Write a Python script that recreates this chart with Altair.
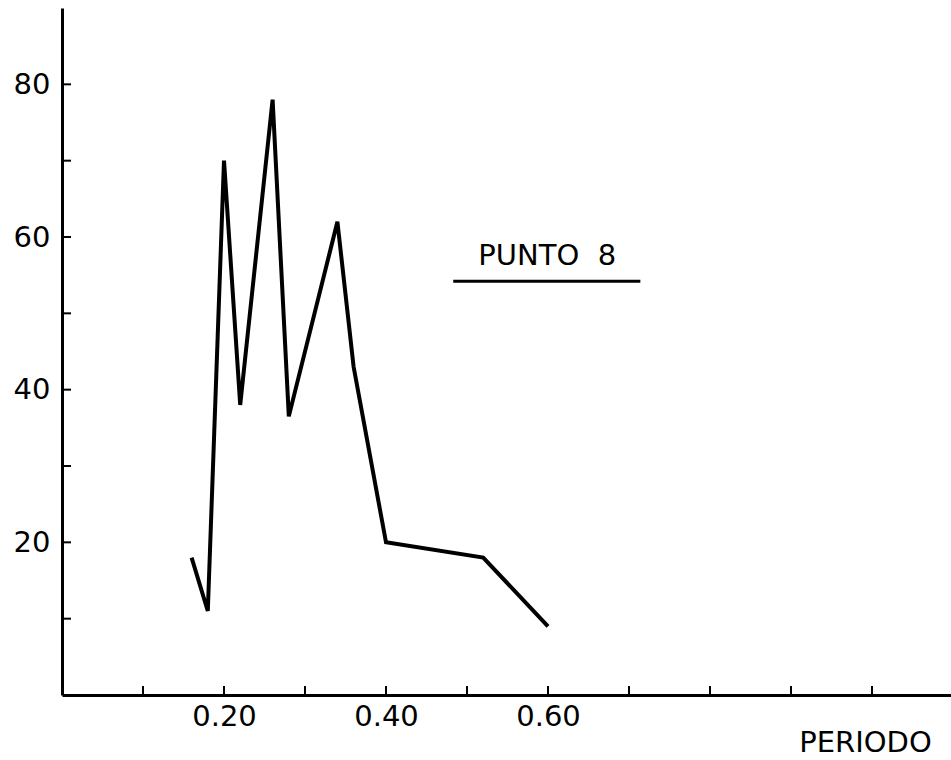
import altair as alt
import pandas as pd

# Data
periodo = [0.16, 0.18, 0.20, 0.22, 0.26, 0.28, 0.34, 0.36, 0.40, 0.52, 0.60]
valor = [18, 11, 70, 38, 78, 36.5, 62, 43, 20, 18, 9]

x_ticks = [0.1, 0.2, 0.3, 0.4, 0.5, 0.6, 0.7, 0.8, 0.9, 1.0]
x_labels = [0.2, 0.4, 0.6]
y_ticks = [10, 20, 30, 40, 50, 60, 70, 80]
y_labels = [20, 40, 60, 80]

label_text = "PUNTO\u00a0\u00a08"

FONT = "DejaVu Sans"
W, H = 889, 687
XMAX = 1.0975
YMAX = 90

df = pd.DataFrame({"periodo": periodo, "valor": valor})
xt = pd.DataFrame({"t": x_ticks})
yt = pd.DataFrame({"t": y_ticks})
ann = pd.DataFrame({"x": [0.599], "y": [57.5], "x1": [0.483], "x2": [0.714], "yu": [54.2], "label": [label_text]})

xscale = alt.Scale(domain=[0, XMAX], nice=False, zero=False)
yscale = alt.Scale(domain=[0, YMAX], nice=False, zero=False)

line = alt.Chart(df).mark_line(color="black", strokeWidth=4, strokeJoin="miter").encode(
    x=alt.X("periodo:Q", scale=xscale,
            axis=alt.Axis(values=x_labels, format=".2f", ticks=False, grid=False,
                          domainColor="black", domainWidth=3,
                          labelFont=FONT, labelFontSize=29, labelColor="black",
                          labelPadding=7,
                          title="PERIODO", titleFont=FONT, titleFontSize=29,
                          titleFontWeight="normal", titleColor="black",
                          titleX=803, titleY=47, titleAlign="center",
                          titleBaseline="middle")),
    y=alt.Y("valor:Q", scale=yscale,
            axis=alt.Axis(values=y_labels, ticks=False, grid=False,
                          domainColor="black", domainWidth=3,
                          labelFont=FONT, labelFontSize=29, labelColor="black",
                          labelPadding=12, title=None)),
)

xtick_marks = alt.Chart(xt).mark_rule(color="black", strokeWidth=2).encode(
    x=alt.X("t:Q", scale=xscale),
    y=alt.value(H),
    y2=alt.value(H - 9),
)

ytick_marks = alt.Chart(yt).mark_rule(color="black", strokeWidth=2).encode(
    y=alt.Y("t:Q", scale=yscale),
    x=alt.value(0),
    x2=alt.value(9),
)

label = alt.Chart(ann).mark_text(font=FONT, fontSize=29, color="black",
                                 align="center", baseline="middle").encode(
    x=alt.X("x:Q", scale=xscale),
    y=alt.Y("y:Q", scale=yscale),
    text="label:N",
)

underline = alt.Chart(ann).mark_rule(color="black", strokeWidth=3).encode(
    x=alt.X("x1:Q", scale=xscale),
    x2="x2:Q",
    y=alt.Y("yu:Q", scale=yscale),
)

chart = alt.layer(xtick_marks, ytick_marks, line, underline, label).properties(
    width=W, height=H,
    autosize=alt.AutoSizeParams(type="none"),
    padding={"left": 62, "top": 8, "right": 0, "bottom": 65},
    background="white",
).configure_view(stroke=None)

chart.save("out.html", embed_options={"renderer": "svg", "actions": False})
